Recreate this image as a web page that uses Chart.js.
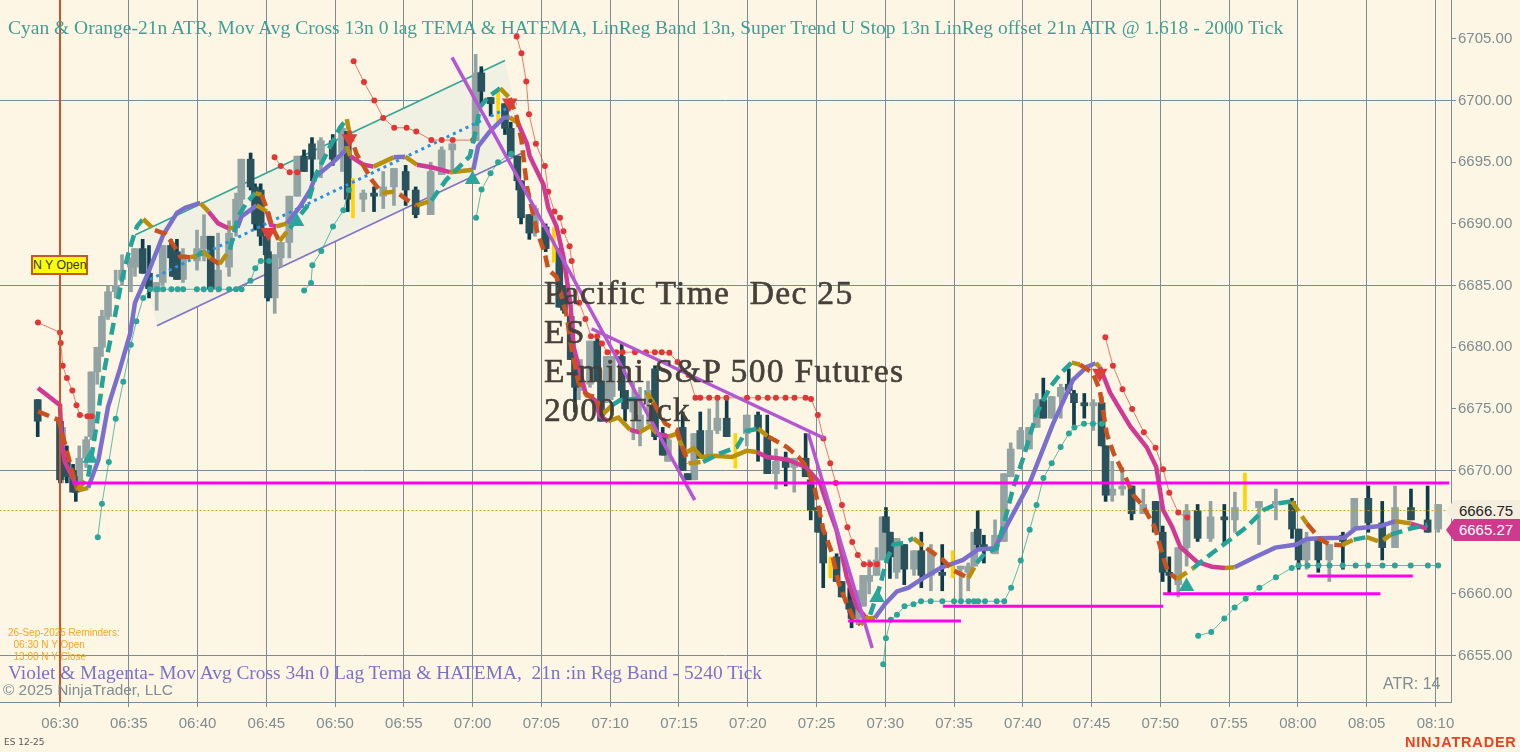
<!DOCTYPE html>
<html>
<head>
<meta charset="utf-8">
<title>ES 12-25</title>
<script src="https://cdn.jsdelivr.net/npm/chart.js@4"></script>
<style>
  html, body { margin: 0; padding: 0; width: 1520px; height: 752px; overflow: hidden; background: #fef6e4; }
  #wrap { position: relative; width: 1520px; height: 752px; }
  canvas { position: absolute; left: 0; top: 0; }
  .txt { position: absolute; white-space: pre; pointer-events: none; }
  #topNote { left: 8px; top: 17px; font: 19.5px 'Liberation Serif', serif; color: #3f9f95; }
  #bottomNote { left: 8px; top: 662px; font: 19.4px 'Liberation Serif', serif; color: #7a72c6; }
  #copyNote { left: 3px; top: 681px; font: 15.4px 'Liberation Sans', sans-serif; color: #7d8d92; }
  #symbolNote { left: 4px; top: 737px; font: 9px 'DejaVu Sans', sans-serif; color: #555; }
  #atrNote { left: 1383px; top: 675px; font: 16px 'Liberation Sans', sans-serif; color: #7d8d92; }
  #remind { left: 8px; top: 627px; font: 10px/12px 'Liberation Sans', sans-serif; color: #f5a623; }
  #bigNote { left: 544px; top: 273px; font: 33.6px/39px 'Liberation Serif', serif; color: #45413a; letter-spacing: 1.3px; -webkit-text-stroke: .6px #45413a; }
  #openTag { left: 31px; top: 255px; width: 53px; height: 16px; background: #ffff00; border: 2px solid #c9562a; font: 12.3px/16px 'Liberation Sans', sans-serif; color: #333; text-align: center; }
  #lastTag, #priceTag { left: 1446px; width: 74px; height: 22px; font: 15px/22px 'Liberation Sans', sans-serif; text-align: center; text-indent: 6px;
    clip-path: polygon(0 50%, 8px 0, 100% 0, 100% 100%, 8px 100%); }
  #lastTag { top: 500px; background: #f3eedd; color: #222; }
  #priceTag { top: 519px; background: #cf3a8e; color: #fff; }
  #brand { left: 1405px; top: 734px; font: bold 14.5px 'Liberation Sans', sans-serif; color: #e8431f; letter-spacing: .8px; }
</style>
</head>
<body>
<div id="wrap">
  <canvas id="grafico" width="1520" height="752"></canvas>
  <div class="txt" id="topNote">Cyan &amp; Orange-21n ATR, Mov Avg Cross 13n 0 lag TEMA &amp; HATEMA, LinReg Band 13n, Super Trend U Stop 13n LinReg offset 21n ATR @ 1.618 - 2000 Tick</div>
  <div class="txt" id="remind">26-Sep-2025 Reminders:
  06:30 N Y Open
  13:00 N Y Close</div>
  <div class="txt" id="bottomNote">Violet &amp; Magenta- Mov Avg Cross 34n 0 Lag Tema &amp; HATEMA,  21n :in Reg Band - 5240 Tick</div>
  <div class="txt" id="copyNote">© 2025 NinjaTrader, LLC</div>
  <div class="txt" id="symbolNote">ES 12-25</div>
  <div class="txt" id="atrNote">ATR: 14</div>
  <div class="txt" id="bigNote">Pacific Time  Dec 25
ES
E-mini S&amp;P 500 Futures
2000 Tick</div>
  <div class="txt" id="openTag">N Y Open</div>
  <div class="txt" id="lastTag">6666.75</div>
  <div class="txt" id="priceTag">6665.27</div>
  <div class="txt" id="brand">NINJATRADER</div>
</div>
<script>
// x values are minutes after 06:30
const timeTicks  = [0, 5, 10, 15, 20, 25, 30, 35, 40, 45, 50, 55, 60, 65, 70, 75, 80, 85, 90, 95, 100];
const timeLabels = ['06:30','06:35','06:40','06:45','06:50','06:55','07:00','07:05','07:10','07:15','07:20','07:25','07:30','07:35','07:40','07:45','07:50','07:55','08:00','08:05','08:10'];
const priceTicks = [6655, 6660, 6665, 6670, 6675, 6680, 6685, 6690, 6695, 6700, 6705];
const priceLines = [6655, 6670, 6685, 6700];

const barMin = [-1.62,0,0.15,0.5,0.95,1.15,1.4,1.9,2.28,2.71,3.05,3.49,4.05,4.51,5.16,5.45,6.01,6.47,7.03,7.47,
  8.07,8.2,8.5,8.94,9.96,10.47,10.96,11.49,12.29,12.8,13.18,13.86,14.18,14.59,15.03,15.12,15.61,16.05,16.67,17.25,
  17.74,18.32,18.97,19.83,20.5,20.92,22.05,22.83,23.5,24.28,25.13,25.86,26.95,27.75,28.52,30.22,30.63,31.31,32.35,32.77,
  33.25,33.52,34.12,34.53,35.31,36.3,36.64,37.13,37.44,37.73,38.53,39.06,39.33,39.75,40.11,40.84,41.08,41.68,42.17,42.75,
  43.26,43.82,44.2,45.27,45.63,46.11,46.55,47.2,47.79,48.47,49.93,50.75,51.42,52.05,52.76,53.38,54.21,54.58,55.11,55.49,
  56.46,56.83,57.38,57.55,57.99,58.39,58.83,59.37,59.81,60.05,60.34,60.83,61.38,62.09,62.62,63.32,64.14,65.48,66.03,66.47,
  66.72,67.17,67.98,68.63,69.12,69.82,70.45,71.01,71.49,72.1,72.76,73.34,73.72,74.47,75.12,75.73,76.02,76.5,77.23,77.91,
  78.76,79.66,80.17,80.65,81.3,81.91,82.71,83.65,84.65,85.42,87.17,88.4,89.57,90.05,90.63,91.48,92.28,93.27,94.1,95.12,
  96.13,97.06,98.22,99.43,100.2];
const barOpen = [6675.75,6674,6669.25,6670.75,6670,6669,6668.75,6671,6672.75,6678,6680,6682.5,6684.5,6685.5,6686.5,6686.5,6688,6686,6684.5,6685.25,
  6688.25,6687.25,6687.75,6685.5,6687,6688,6689,6684.75,6686.5,6689.75,6692,6695.25,6693,6692.75,6689,6687.75,6684,6687.25,6688.5,6692.25,
  6695.5,6696.5,6695.25,6696.75,6695.75,6697.5,6692,6692.5,6692.25,6693,6694.25,6692.75,6690.75,6694,6696,6696.75,6702.25,6700.25,6699.75,6697.75,
  6695.5,6693.5,6690.75,6689.5,6689.75,6688,6685,6682.5,6679,6676.5,6677,6680.5,6677.25,6675.75,6676,6679.25,6676.5,6674.75,6673.25,6675.75,
  6678.25,6673,6670.75,6673.5,6669.75,6669.25,6673.25,6671.25,6673.25,6674.25,6673,6674.5,6672.75,6669.75,6671,6670.25,6671,6669.25,6667,6665,
  6663,6661,6659.5,6659.5,6658,6659,6661,6661.5,6662.75,6666.25,6665,6661.75,6664,6662,6663.5,6661.5,6661.75,6662,6661.75,6662.25,
  6665.25,6664,6663.25,6664.25,6669.5,6671.75,6671.75,6673.5,6675.75,6674.25,6676,6677,6676.25,6675.5,6675.25,6675.5,6672,6668,6668.5,6668.75,
  6666.5,6667.5,6665,6661.75,6660.75,6663.75,6666.75,6664.5,6666.25,6666,6667,6667.25,6667.5,6665.25,6662.75,6664.5,6662.75,6664.75,6665.25,6667.75,
  6665.75,6663.75,6667,6666,6665.25];
const barHigh = [6675.75,6674.25,6673.5,6672,6670.5,6669.5,6672,6672.75,6678,6680,6683,6685,6686.25,6687.5,6687.25,6688,6688.75,6688.25,6685.25,6688.25,
  6688.75,6687.25,6688.75,6688,6689.5,6690.75,6689,6689.25,6690.25,6692.5,6695.25,6695.75,6693.25,6693.25,6689.25,6687.75,6687.5,6688.5,6692.25,6695.5,
  6696,6697,6697,6697.25,6698,6697.5,6692.75,6693,6694.25,6694.5,6694.75,6693,6695,6696.25,6696.5,6703.75,6702.75,6700.25,6699.75,6698.25,
  6695.5,6693.5,6690.75,6691.5,6690,6688,6685,6682.5,6679,6679,6680.5,6680.75,6677.25,6679.25,6679.25,6680.25,6676.5,6677.25,6676.75,6677.25,
  6678.5,6673.5,6672.75,6674.75,6669.75,6673,6674.75,6675,6675.75,6676,6674.5,6674.75,6674.5,6671.75,6671.5,6671,6673,6669.25,6667,6665,
  6663.25,6661,6660.5,6660,6660.25,6661.5,6662.75,6663.75,6666.25,6667,6665,6664.5,6664,6663.5,6665,6664,6664,6662.25,6662.5,6665,
  6666.75,6664.75,6666,6669.75,6672.25,6673.5,6673.5,6676.25,6677.5,6676,6677,6678.25,6676.5,6676.25,6675.75,6676,6672,6670.75,6670.25,6668.75,
  6668.5,6667.5,6665.5,6663,6663.75,6667.25,6667.25,6667.5,6667.25,6668.25,6667.5,6668.5,6667.75,6665.25,6665,6664.5,6664,6665,6667.75,6668.75,
  6667.5,6668.75,6668.5,6668.75,6667.25];
const barLow = [6672.75,6669,6669,6669,6668.25,6667.5,6668.5,6670.25,6672.5,6677,6679.25,6682.25,6684,6685,6684.5,6685.75,6686,6684,6683,6685,
  6687,6685.75,6685.5,6685.25,6686.25,6687,6684.5,6684.5,6685.75,6689,6691,6692.75,6689.5,6688.25,6687.25,6683.75,6682.75,6686.5,6687.25,6692.25,
  6694.25,6693.5,6693.75,6694.75,6694.25,6691,6691,6691,6691.25,6691.5,6691.5,6690.5,6690.75,6694,6694.25,6696.75,6699.75,6698.75,6697.25,6695.5,
  6692.75,6690,6688.75,6689,6687.75,6683.25,6682.75,6679,6674.75,6675.75,6676.75,6677.25,6674,6675.5,6675.75,6675.75,6674,6672.5,6672,6673.75,
  6672.5,6671.25,6670.75,6670,6669.25,6669.25,6671,6671.25,6673,6672.75,6672,6670.75,6669.75,6668.5,6668.75,6668.25,6669.5,6666,6665,6660.5,
  6661,6659.75,6658.5,6657.25,6657.5,6659,6660,6661.5,6662.75,6665,6661.25,6661.25,6660.75,6661.5,6660.5,6660.25,6660.25,6659.25,6660.25,6662.25,
  6663.75,6662.5,6663.25,6664.25,6669.5,6671.75,6671.75,6673.5,6674.25,6674.25,6674.25,6676.25,6673.5,6674.25,6673.25,6672,6667.5,6667.5,6668,6666,
  6666.5,6665,6661,6660,6659.75,6662.25,6664.25,6664.25,6664,6665,6664,6666,6664.5,6662,6662,6661.75,6661,6662,6665.25,6665,
  6662.75,6663.75,6666,6665,6665];
const barClose = [6674,6669.25,6673.5,6669.5,6668.25,6668.25,6671,6672.5,6678,6680,6682.5,6684.5,6685,6686.25,6687.25,6688,6686,6684.75,6685.25,6688.25,
  6687.25,6685.75,6685.5,6687.5,6688,6689,6684.75,6686.25,6689.25,6692,6695.25,6693,6690,6689,6687.5,6684,6687.5,6688.5,6692.25,6695.5,
  6694.25,6695.25,6696.75,6695.25,6697.75,6692,6692.5,6692.25,6693,6694.5,6692.75,6690.75,6694.25,6696,6696.5,6702.25,6700.75,6699.75,6697.75,6695.5,
  6693.5,6690.5,6689.25,6691.25,6688,6683.25,6683,6679,6676.75,6679,6680.5,6677.25,6674,6679.25,6679.25,6676.5,6675,6675.75,6674.5,6676.5,
  6672.75,6671.25,6672.5,6670,6669.25,6673,6671,6673.25,6674.25,6672.75,6674.5,6673.25,6669.75,6670.75,6670.25,6671,6669.5,6666.75,6665,6662.5,
  6661,6659.75,6658.75,6658,6660.25,6661.5,6661.5,6662.75,6666.25,6665,6663,6664.5,6662,6663.5,6661.5,6663.5,6661.5,6662.25,6662.25,6665,
  6664,6663.75,6664.75,6669.75,6671.75,6673.25,6673.5,6675.75,6674.25,6676,6676.75,6676.5,6675.5,6675.25,6675.5,6672,6668,6668.5,6668.75,6666.5,
  6667.25,6665,6661.75,6661.5,6663.75,6666.75,6664.5,6666.25,6666,6667,6667.5,6667.5,6665.25,6662.75,6664.5,6662.75,6664,6664.25,6667.75,6665.75,
  6663.75,6667,6666,6665,6667.25];

// 13n fast average, drawn dashed
const fastMin = [-1.6,-0.1,1.25,2.05,2.65,3.15,3.75,4.5,4.95,5.35,5.6,6.05,6.9,7.65,8.25,8.75,9.45,9.95,10.4,10.95,11.6,12.35,12.95,13.55,14.2,14.65,15.15,15.4,15.95,16.7,
  17.95,18.65,19.65,20.35,20.85,21,21.55,22.65,23.4,24.25,24.7,25.3,25.95,27,28.1,29.8,30.15,30.55,31.15,32,32.7,33.2,33.55,33.95,34.65,35.25,35.5,36.1,36.85,37.2,
  37.7,38.3,38.9,39.5,40.15,40.7,41.8,42.65,43.15,44,44.85,45.3,45.7,46.75,48,49.2,49.9,50.75,51.5,52.85,53.7,54.3,54.9,55.5,56.1,56.6,57.2,57.7,58.2,58.9,
  59.6,60.1,60.6,61.45,62.05,63,64.2,64.95,66.05,66.65,67.25,68.1,68.7,69.3,70.05,71,72,72.85,73.55,74.15,75.1,75.6,76.1,76.6,77.45,78.05,78.75,79.6,80.2,80.55,
  81.2,82.4,83.75,84.85,86.3,87.5,88.6,89.55,90.65,91.65,92.35,93.2,94.05,95,96,96.75,98.2,99.4];
const fastVal = [6674.8,6674.1,6668.4,6669.5,6673.6,6677.75,6681.1,6685.5,6687.5,6689,6689.8,6690.4,6689.5,6689.2,6688.3,6687.35,6687.3,6687.4,6687.8,6687.2,6686.75,6687.9,6690.6,6691.7,6692.5,6692.35,6690.9,6689.8,6688.6,6689.65,
  6691.4,6694.1,6696.3,6697.8,6698.5,6697.6,6695.7,6693.6,6692.5,6692.6,6692.4,6691.9,6691.5,6691.9,6693.6,6695.5,6697.2,6699.5,6700.3,6701,6700.2,6698.7,6696.8,6693,6689.5,6687.6,6686.3,6685.7,6682.5,6679.8,
  6677.1,6676.1,6676,6674.6,6675.3,6675.7,6675.8,6676.3,6675.5,6673.8,6673.3,6671.7,6670.6,6670.7,6671.4,6671.9,6673.2,6673.4,6672.75,6671.9,6671.1,6670.3,6668.4,6665.2,6663.4,6660.9,6659.2,6658,6657.5,6658.3,
  6660.6,6662.75,6664,6664.15,6664.5,6663.7,6662.75,6661.9,6661.3,6662.5,6663.3,6663.7,6666,6668.6,6671.1,6674.6,6676.8,6678,6678.75,6678.6,6677.9,6676.5,6673,6671.4,6669.5,6668,6667.1,6665.4,6663,6661.8,
  6661.2,6662.1,6663.3,6664.2,6665.45,6666.8,6667.35,6667.5,6665.7,6664.4,6664,6663.95,6664.4,6664.6,6664.2,6664.8,6665.3,6665.6];

// 34n slow average, drawn solid
const slowMin = [-1.6,0,0.1,0.35,1.1,1.35,2.05,2.8,3.5,4.35,5.1,5.45,6.4,7.5,8.5,9.1,10.2,10.8,11.5,12.25,12.9,13.2,14.3,15.05,15.35,15.75,16.5,17.45,18.2,18.55,
  19.9,20.7,20.85,21.1,22.05,22.8,24.25,25.1,25.95,27,28.35,30.05,30.4,31.25,32.25,32.7,33.3,33.95,34.15,35.15,35.5,36.1,36.6,37.1,37.35,38.2,38.9,39.25,39.85,40.6,
  41.45,42.15,42.9,43.4,44.25,44.85,45.45,46.05,46.65,47.6,48.85,49.9,50.65,51.4,52.85,54.2,55.25,55.75,56.45,57.2,57.9,58.65,59.25,60,60.85,61.7,62.5,64,65.65,66.15,
  66.75,67.95,70.5,72.2,73.65,74.65,75.3,75.6,76.35,77.8,79,79.7,80.2,80.85,81.45,82.65,83.75,84.7,85.4,86.75,88.35,89.9,90.65,91.5,93.35,94.2,96,97.1,98.2,99.4];
const slowVal = [6676.7,6675.3,6672.5,6670.7,6669,6668.4,6668.6,6670.9,6675.2,6678.2,6681.1,6683.6,6686,6689.1,6690.9,6691.3,6691.7,6691,6690.05,6689.65,6689.7,6690.6,6691.5,6691,6689.9,6689.8,6690.05,6691.4,6692.75,6693.8,
  6695.05,6695.9,6696.3,6695.5,6694.8,6694.65,6695.4,6695.45,6694.8,6694.6,6694.2,6694.4,6696.3,6697.5,6698.6,6698.65,6698.2,6696.5,6695.5,6693.2,6691.3,6689.8,6687.35,6683.6,6680,6676.3,6675.7,6674.4,6674,6674.3,
  6673.3,6673.1,6673.6,6673,6672.75,6673,6671.4,6671.8,6671.1,6671.2,6671.1,6671.6,6671.5,6671.1,6670.9,6670.3,6669,6667.35,6665.2,6661.4,6659,6658,6658.05,6659.2,6660.2,6660.5,6661.1,6662.1,6662.75,6663.15,
  6663.6,6663.7,6669,6673.8,6677.35,6678.4,6678.7,6678.4,6676.3,6673.6,6671.9,6670.3,6666.8,6665.45,6663.8,6662.6,6662.2,6662.1,6662.15,6662.9,6663.75,6664,6664.45,6664.5,6664.55,6665.3,6665.5,6665.9,6665.7,6665.3];

// super trend stops, null starts a new leg
const stopDownMin = [-1.6,0,0.05,0.2,0.5,0.9,1.2,1.45,2,2.3,null,15.6,16.05,16.7,17.25,null,21.35,22.1,22.85,23.5,24.3,25.2,25.9,27,27.75,28.55,30.05,null,
  33.2,33.55,33.9,34.1,34.6,35.25,35.5,35.95,36.35,36.6,37.05,37.2,37.75,38.2,38.6,39.05,39.4,39.8,40.45,40.9,41.8,42.6,43.25,43.75,44.3,44.9,45.7,46.2,46.55,47.2,47.8,48.45,49.95,50.75,51.45,52.05,52.75,53.4,54.2,54.6,
  55.1,55.5,56,56.4,56.85,57.25,57.6,58,58.45,58.9,59.4,null,76,76.55,77.25,77.95,78.8,79.65,80.2,80.65,81.3,81.95];
const stopDownVal = [6682,6681.2,6680.35,6678.5,6677.5,6676.5,6675.3,6674.5,6674.4,6674.4,null,6695.4,6694.7,6694.2,6694.2,null,6703.2,6701.5,6700,6698.6,6697.8,6697.8,6697.5,6696.8,6696.8,6696.8,6696.8,null,
  6705.2,6703.85,6701.55,6698.9,6696.5,6694.7,6692.6,6691,6690.5,6689.4,6688.2,6687,6683.6,6682.3,6680.9,6680.9,6680.3,6679.6,6679.6,6679.6,6679.6,6679.6,6679.6,6679.6,6679.55,6678.8,6677.75,6675.9,6675.9,6675.9,6675.9,6675.9,6675.9,6675.9,6675.9,6675.9,6675.9,6675.9,6675.9,6675.8,
  6674.5,6672.6,6670.6,6669,6667.2,6665.4,6664.2,6663.15,6662.4,6662.4,6662.4,null,6680.8,6678.5,6676.6,6675,6673.1,6671.85,6670.1,6668.2,6666.6,6666.2];
const stopUpMin = [2.75,3.05,3.55,4.05,4.6,5.15,5.55,6.05,6.55,7.05,7.5,8.1,8.55,8.95,9.95,10.45,10.95,11.55,12.3,12.8,13.2,13.85,14.2,14.6,15.2,null,17.75,18.25,18.35,19,19.85,20.6,21,null,30.25,30.65,31.3,31.85,32.8,null,
  59.85,60.05,60.4,60.85,61.4,62.05,62.6,63.3,64.15,65,65.5,66.05,66.45,66.75,67.25,68.1,68.65,69.15,69.85,70.5,71,71.5,72.1,72.75,73.35,73.75,74.45,75.1,75.75,null,
  82.75,83.7,84.65,85.4,86.2,87.2,88.4,89.55,90.05,90.7,91.5,92.3,93.25,94.2,95.1,96.15,97.05,98.2,99.45,100.2];
const stopUpVal = [6664.6,6667.3,6670.7,6674.2,6677.2,6680.2,6682.1,6684,6684.7,6684.7,6684.7,6684.7,6684.7,6684.7,6684.7,6684.7,6684.7,6684.7,6684.7,6684.7,6684.7,6685.4,6686.4,6687,6687,null,6684.6,6685.2,6686.65,6687.8,6689.8,6691.1,6692.75,null,6690.5,6692.8,6694.1,6695,6695.7,null,
  6654.3,6656.4,6657.9,6658.3,6659,6659.15,6659.4,6659.4,6659.4,6659.4,6659.4,6659.4,6659.4,6659.4,6659.4,6659.4,6659.4,6660.5,6662.7,6665.2,6667.2,6669.4,6670.6,6671.9,6673,6673.5,6673.8,6673.8,6673.8,null,
  6656.6,6656.9,6658,6658.9,6659.6,6660.5,6661.35,6662.1,6662.3,6662.3,6662.3,6662.3,6662.3,6662.3,6662.3,6662.3,6662.3,6662.3,6662.3,6662.3];

// linear regression band corners
const bandMin = [5.45, 32.35, 33.8, 7.05];
const bandVal = [6689.1, 6703.25, 6695.85, 6681.75];
const bandMidMin = [6.54, 33.2];
const bandMidVal = [6685.5, 6699.75];

// hand drawn trend lines
const trendMin = [28.5, 46.15, null, 38.65, 55.6, null, 54.4, 59.05];
const trendVal = [6703.5, 6667.6, null, 6681.5, 6672.6, null, 6673, 6655.6];

// magenta support levels
const levelMin = [0.9, 101, null, 57.3, 65.5, null, 64.2, 80.2, null, 80.2, 96, null, 90.7, 98.35];
const levelVal = [6669, 6669, null, 6657.8, 6657.8, null, 6659, 6659, null, 6660, 6660, null, 6661.45, 6661.45];

const sellMin = [15.15, 21.05, 32.7, 75.6];
const sellVal = [6689.3, 6696.9, 6699.8, 6677.9];
const buyMin = [2.2, 17.2, 30, 59.4, 81.9];
const buyVal = [6671, 6690.2, 6693.6, 6659.7, 6660.6];

const yellowMin = [21.3, 31.85, 35.9, 49.1, 56, 64.9, 86.15];
const yellowTop = [6693.7, 6700.7, 6689.7, 6673, 6663, 6663.5, 6669.8];
const yellowBot = [6690.5, 6698.3, 6686.9, 6670.2, 6661.3, 6661.3, 6666.8];

const lastPrice = 6666.75;

function pares(xs, ys) {
    return xs.map((x, i) => ({ x: x, y: ys[i] }));
}

function corSegmento(xs, ys, subindo, descendo) {
    return ctx => {
        const i = ctx.p0DataIndex;
        const agora = ys[i + 1] - ys[i];
        const antes = i > 0 ? ys[i] - ys[i - 1] : agora;
        if ((agora >= 0) !== (antes >= 0)) return '#b8900c';
        return agora >= 0 ? subindo : descendo;
    };
}

function linhaSimples(xs, ys, cor, largura, ordem, extra) {
    return Object.assign({
        type: 'line', data: pares(xs, ys), borderColor: cor, borderWidth: largura,
        pointRadius: 0, fill: false, tension: 0, spanGaps: false, order: ordem
    }, extra || {});
}

function barras(dados, cor, largura, ordem) {
    return { type: 'bar', data: dados, backgroundColor: cor, borderWidth: 0, barThickness: largura, grouped: false, order: ordem };
}

const indices = barMin.map((_, i) => i);
const baixa = indices.filter(i => barClose[i] < barOpen[i]);
const alta = indices.filter(i => barClose[i] >= barOpen[i]);
const pavio = lista => lista.map(i => ({ x: barMin[i], y: [barLow[i], barHigh[i]] }));
const corpo = lista => lista.map(i => ({ x: barMin[i], y: [barOpen[i], barClose[i]] }));

const corGrade = '#7b8d94';

const faixaRegressao = {
    id: 'faixaRegressao',
    beforeDatasetsDraw(chart) {
        const { ctx, scales } = chart;
        ctx.save();
        ctx.beginPath();
        bandMin.forEach((m, i) => {
            ctx.lineTo(scales.x.getPixelForValue(m), scales.y.getPixelForValue(bandVal[i]));
        });
        ctx.closePath();
        ctx.fillStyle = '#f0f0e3';
        ctx.fill();
        ctx.restore();
    }
};

new Chart(document.getElementById('grafico').getContext('2d'), {
    type: 'line',
    data: {
        datasets: [
            linhaSimples([bandMin[0], bandMin[1]], [bandVal[0], bandVal[1]], '#35a598', 1.6, 30),
            linhaSimples([bandMin[3], bandMin[2]], [bandVal[3], bandVal[2]], '#7d73c9', 1.6, 30),
            barras(pavio(alta), '#93a3a4', 3, 29),
            barras(corpo(alta), '#93a3a4', 7, 28),
            barras(pavio(baixa), '#0f3c4a', 3, 27),
            barras(corpo(baixa), '#2a525d', 7, 26),
            barras(yellowMin.map((m, i) => ({ x: m, y: [yellowBot[i], yellowTop[i]] })), '#ffd400', 3, 25),
            linhaSimples(bandMidMin, bandMidVal, '#2e8fdc', 3, 24, { borderDash: [3, 4] }),
            linhaSimples([-4.4, 101.2], [lastPrice, lastPrice], '#c8a020', 1, 23, { borderDash: [2, 2] }),
            linhaSimples(stopDownMin, stopDownVal, 'rgba(225,70,55,0.7)', 1, 22, { pointRadius: 3, pointBackgroundColor: '#e03636', pointBorderWidth: 0 }),
            linhaSimples(stopUpMin, stopUpVal, 'rgba(42,165,152,0.75)', 1, 21, { pointRadius: 3, pointBackgroundColor: '#2aa598', pointBorderWidth: 0 }),
            linhaSimples(slowMin, slowVal, '#7a70cb', 4.5, 20, { segment: { borderColor: corSegmento(slowMin, slowVal, '#7a70cb', '#cf3a94') } }),
            linhaSimples(fastMin, fastVal, '#25a398', 4.5, 19, { borderDash: [12, 6], segment: { borderColor: corSegmento(fastMin, fastVal, '#25a398', '#c9521f') } }),
            linhaSimples(trendMin, trendVal, '#b557d0', 3.5, 18),
            linhaSimples(levelMin, levelVal, '#ff00ee', 3, 17),
            linhaSimples([0, 0], [6651.2, 6708.2], '#c9562a', 2, 16),
            { type: 'scatter', data: pares(sellMin, sellVal), pointStyle: 'triangle', rotation: 180, pointRadius: 9, backgroundColor: '#da4038', borderWidth: 0, order: 15 },
            { type: 'scatter', data: pares(buyMin, buyVal), pointStyle: 'triangle', pointRadius: 9, backgroundColor: '#2ba69a', borderWidth: 0, order: 15 }
        ]
    },
    options: {
        responsive: false,
        animation: false,
        events: [],
        layout: { padding: 0, autoPadding: false },
        plugins: { legend: { display: false }, tooltip: { enabled: false } },
        scales: {
            x: {
                type: 'linear', min: -4.362, max: 101.13, offset: false,
                grid: { color: corGrade, offset: false, tickLength: 5, tickColor: corGrade },
                border: { color: corGrade },
                afterBuildTicks: eixo => { eixo.ticks = timeTicks.map(v => ({ value: v })); },
                afterFit: eixo => { eixo.height = 50; eixo.paddingLeft = 0; eixo.paddingRight = 0; },
                ticks: {
                    autoSkip: false, maxRotation: 0, padding: 8, color: '#7d8d92',
                    font: { family: 'Liberation Sans', size: 15 },
                    callback: v => timeLabels[timeTicks.indexOf(v)]
                }
            },
            y: {
                type: 'linear', position: 'right', min: 6651.23, max: 6708.16,
                grid: {
                    color: c => priceLines.includes(c.tick.value) ? corGrade : 'transparent',
                    tickLength: 5, tickColor: corGrade
                },
                border: { color: corGrade },
                afterBuildTicks: eixo => { eixo.ticks = priceTicks.map(v => ({ value: v })); },
                afterFit: eixo => { eixo.width = 69; eixo.paddingTop = 0; eixo.paddingBottom = 0; },
                ticks: {
                    padding: 2, color: '#7d8d92',
                    font: { family: 'Liberation Sans', size: 15 },
                    callback: v => v.toFixed(2)
                }
            }
        }
    },
    plugins: [faixaRegressao]
});
</script>
</body>
</html>
